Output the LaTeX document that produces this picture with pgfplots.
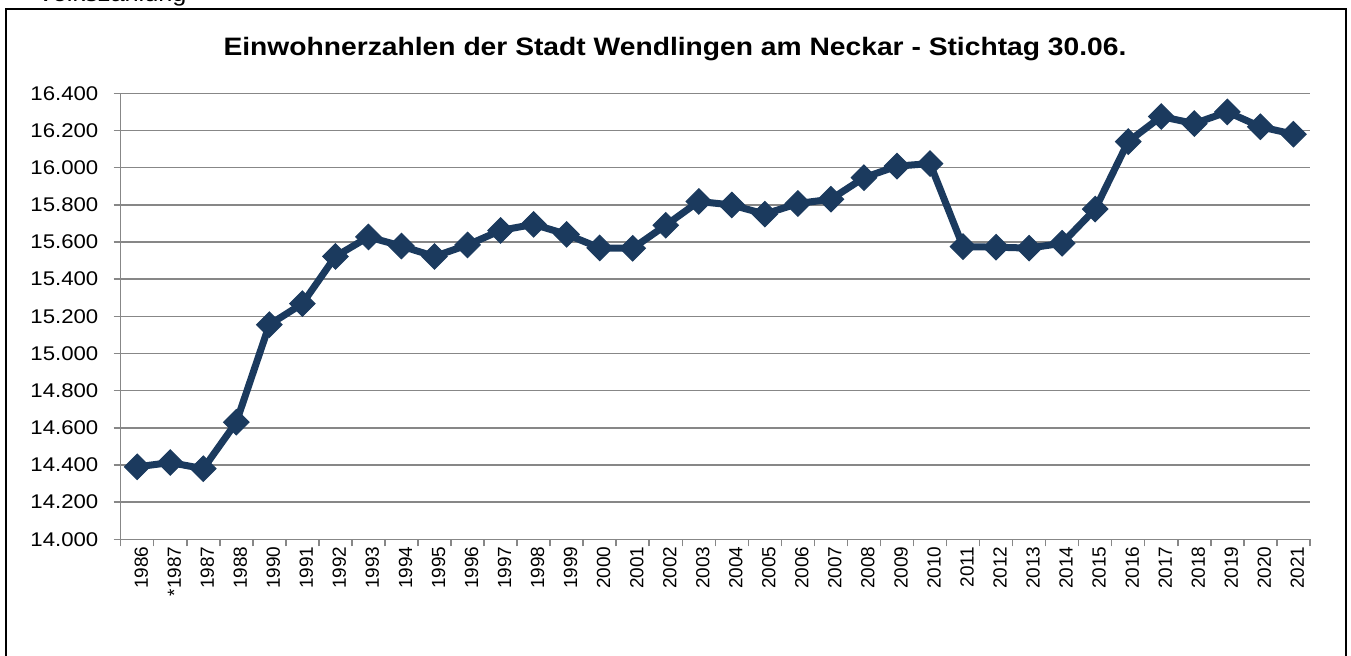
\documentclass[border=0pt]{standalone}
\usepackage{fontspec}
\setmainfont{Liberation Sans}[FakeStretch=1.12]
\newfontfamily\plainsans{Liberation Sans}
\usepackage{pgfplots}
\pgfplotsset{compat=1.18}
\definecolor{navy}{HTML}{1B3A5E}
\definecolor{gridgray}{HTML}{878787}

\pgfplotstableread{
idx einw
0 14390
1 14413
2 14380
3 14630
4 15155
5 15268
6 15522
7 15627
8 15578
9 15522
10 15584
11 15662
12 15695
13 15641
14 15568
15 15566
16 15690
17 15818
18 15799
19 15750
20 15807
21 15830
22 15946
23 16008
24 16022
25 15575
26 15572
27 15567
28 15593
29 15777
30 16140
31 16275
32 16237
33 16300
34 16220
35 16180
}\einwohner

\begin{document}
\begin{tikzpicture}
% page = 1351 x 655 px, 1px = 0.5pt
\begin{scope}[x=0.5pt,y=0.5pt]
\useasboundingbox (0,0) rectangle (1351,655);
\draw[line width=1pt] (6,-20) rectangle (1346,646);
\node[anchor=base west,font=\fontsize{11.3}{13}\selectfont,inner sep=0pt] at (37,653.5) {Volkszählung};
\node[anchor=base,font=\fontsize{12.6}{15}\selectfont\bfseries,inner sep=0pt] at (675,599.3)
  {Einwohnerzahlen der Stadt Wendlingen am Neckar - Stichtag 30.06.};
\end{scope}

\begin{axis}[
    at={(60.35pt,57.85pt)}, anchor=south west,
    scale only axis, width=594.6pt, height=223pt,
    xmin=-0.5, xmax=35.5, ymin=14000, ymax=16400,
    axis lines=left, axis line style={-, gridgray, line width=0.75pt},
    ytick={14000,14200,...,16400},
    xtick={0,...,35},
    xticklabels={1986,*1987,1987,1988,1990,1991,1992,1993,1994,1995,1996,1997,1998,1999,2000,2001,2002,2003,2004,2005,2006,2007,2008,2009,2010,2011,2012,2013,2014,2015,2016,2017,2018,2019,2020,2021},
    minor xtick={-0.5,0.5,...,35.5},
    major x tick style={draw=none},
    minor x tick style={gridgray, line width=0.75pt},
    y tick style={gridgray, line width=0.75pt},
    tick align=outside, major tick length=3.5pt, minor tick length=3.5pt,
    ymajorgrids, grid style={gridgray, line width=0.75pt},
    scaled y ticks=false,
    /pgf/number format/fixed, /pgf/number format/precision=0,
    /pgf/number format/1000 sep={.}, /pgf/number format/assume math mode=true,
    yticklabel style={font=\fontsize{9.9}{12}\selectfont, inner sep=0pt, xshift=-7.5pt},
    xticklabel style={font=\plainsans\fontsize{9.5}{11}\selectfont, rotate=90, anchor=east, inner sep=0pt, yshift=-2pt},
    clip=false,
]
\addplot[navy, line width=3.5pt, mark=square*, mark size=4.5pt,
         mark options={rotate=45, line width=0.5pt, fill=navy}]
  table[x=idx, y=einw] {\einwohner};
\end{axis}
\end{tikzpicture}
\end{document}
